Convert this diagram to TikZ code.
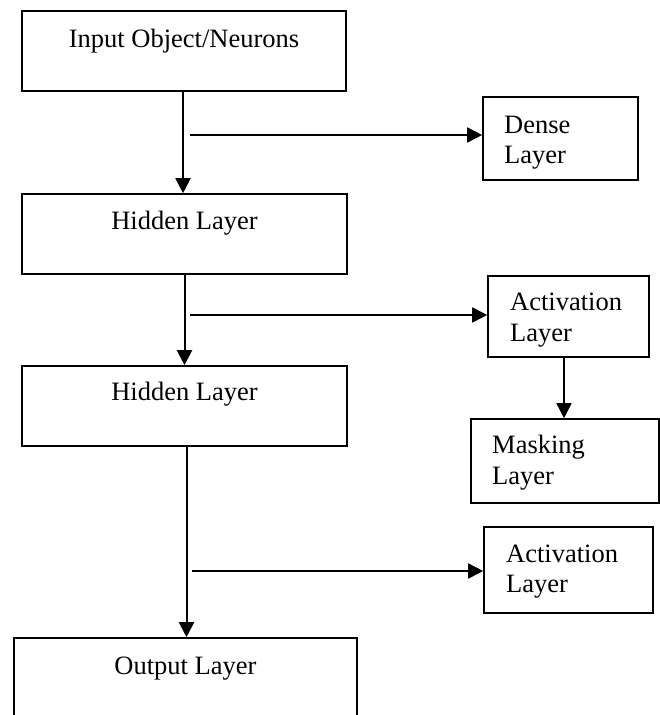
\documentclass[tikz,border=0pt]{standalone}
\usepackage{fontspec}
\setmainfont{Liberation Serif}
\usetikzlibrary{arrows.meta}
\begin{document}
\begin{tikzpicture}[x=1pt,y=-1pt,
  box/.style={draw, line width=1.6pt, inner sep=0pt, rectangle},
  txt/.style={inner sep=0pt, font=\fontsize{26.5}{30}\selectfont},
  vline/.style={line width=2pt, -{Triangle[length=15pt,width=15pt]}},
  hline/.style={line width=1.6pt, -{Triangle[length=15pt,width=15pt]}}]
\useasboundingbox (0,0) rectangle (660,715);
\clip (0,0) rectangle (660,715);
% boxes
\node[box, minimum width=324pt, minimum height=80pt] (in) at (184,51) {};
\node[box, minimum width=325pt, minimum height=80pt] (hid1) at (184.5,234) {};
\node[box, minimum width=325pt, minimum height=80pt] (hid2) at (184.5,406) {};
\node[box, minimum width=343pt, minimum height=130pt] (out) at (185.5,703) {};
\node[box, minimum width=155pt, minimum height=83pt] (dense) at (560.5,138.5) {};
\node[box, minimum width=161pt, minimum height=81pt] (act1) at (568.5,316.5) {};
\node[box, minimum width=188pt, minimum height=84pt] (mask) at (565,461) {};
\node[box, minimum width=169pt, minimum height=86pt] (act2) at (568.5,570) {};
% texts
\node[txt, anchor=base] (tin) at (184,47) {Input Object/Neurons};
\node[txt, anchor=base] (th1) at (184.5,229) {Hidden Layer};
\node[txt, anchor=base] (th2) at (184.5,400) {Hidden Layer};
\node[txt, anchor=base] (tout) at (185.5,674) {Output Layer};
\node[txt, anchor=base west] (td1) at (504,133) {Dense};
\node[txt, anchor=base west] (td2) at (504,163) {Layer};
\node[txt, anchor=base west] (ta1) at (510,310) {Activation};
\node[txt, anchor=base west] (ta2) at (510,341) {Layer};
\node[txt, anchor=base west] (tm1) at (492,453) {Masking};
\node[txt, anchor=base west] (tm2) at (492,484) {Layer};
\node[txt, anchor=base west] (tb1) at (506,562) {Activation};
\node[txt, anchor=base west] (tb2) at (506,592) {Layer};
% branch start points
\coordinate (s1) at (190,135);
\coordinate (s2) at (190,315);
\coordinate (s3) at (192,571);
% vertical connectors
\draw[vline] ([xshift=-1pt]in.south) -- ([xshift=-1pt]in.south |- hid1.north);
\draw[vline] (hid1.south) -- (hid1.south |- hid2.north);
\draw[vline] ([xshift=2pt]hid2.south) -- ([xshift=2pt]hid2.south |- out.north);
\draw[hline] ([xshift=-4.5pt]act1.south) -- ([xshift=-4.5pt]act1.south |- mask.north);
% horizontal connectors
\draw[hline] (s1) -- (s1 -| dense.west);
\draw[hline] (s2) -- (s2 -| act1.west);
\draw[hline] (s3) -- (s3 -| act2.west);
\end{tikzpicture}
\end{document}
